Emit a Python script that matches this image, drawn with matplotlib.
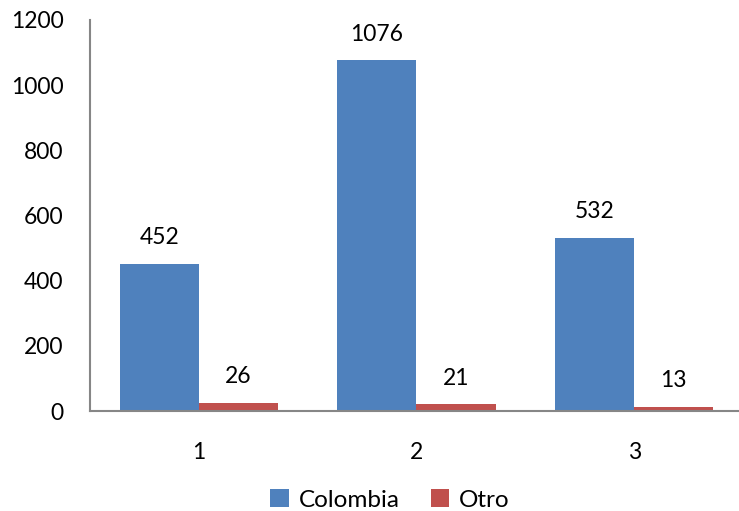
import matplotlib
matplotlib.use("Agg")
import matplotlib.pyplot as plt
import numpy as np

categories = ["1", "2", "3"]
colombia = [452, 1076, 532]
otro = [26, 21, 13]
series_names = ["Colombia", "Otro"]

plt.rcParams['font.family'] = ['Lato', 'DejaVu Sans']
FS = 16.5

fig = plt.figure(figsize=(7.39, 5.11), dpi=100)
ax = fig.add_axes([90/739, 100/511, 653/739, 391/511])

x = np.arange(1, len(categories) + 1)
w = 0.363
blue, red = "#4F81BD", "#C0504D"
b1 = ax.bar(x - w/2, colombia, w, color=blue, label=series_names[0])
b2 = ax.bar(x + w/2, otro, w, color=red, label=series_names[1])

for bars, vals in ((b1, colombia), (b2, otro)):
    for r, v in zip(bars, vals):
        ax.annotate(str(v), (r.get_x() + r.get_width()/2, v),
                    xytext=(0, 11), textcoords="offset points",
                    ha="center", va="bottom", fontsize=FS)

ax.set_xlim(0.5, 3.5)
ax.set_ylim(0, 1200)
ax.set_yticks(range(0, 1201, 200))
ax.set_xticks(x)
ax.set_xticklabels(categories)
ax.tick_params(axis="both", length=0, labelsize=FS)
ax.tick_params(axis="y", pad=19)
ax.tick_params(axis="x", pad=22)
for s in ("top", "right"):
    ax.spines[s].set_visible(False)
for s in ("left", "bottom"):
    ax.spines[s].set_color("#868686")
    ax.spines[s].set_linewidth(1.5)

leg = fig.legend(handles=[b1, b2], labels=series_names, loc="center",
                 bbox_to_anchor=(390/739, 1 - 500/511), ncol=2, frameon=False,
                 fontsize=17.5, handlelength=0.75, handleheight=0.75,
                 handletextpad=0.4, columnspacing=1.3)

fig.savefig("out.png", dpi=100)
